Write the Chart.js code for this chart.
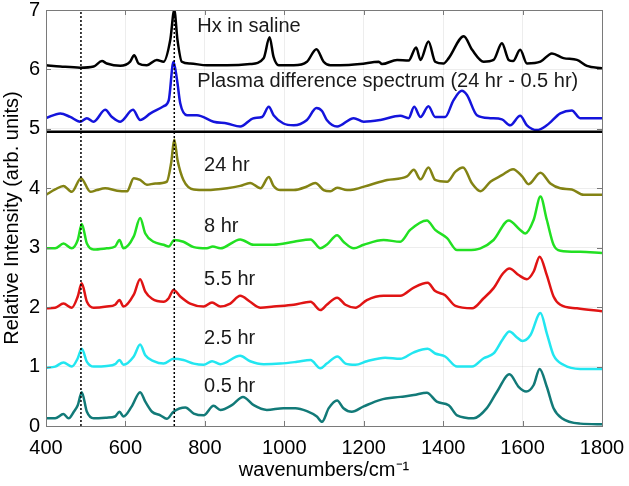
<!DOCTYPE html>
<html>
<head>
<meta charset="utf-8">
<script src="https://cdn.jsdelivr.net/npm/chart.js@4/dist/chart.umd.min.js"></script>
<style>
    html, body { margin: 0; padding: 0; background: #fff; }
</style>
</head>
<body>
<canvas id="spectraChart" width="629" height="486"></canvas>
<script>
// spectra: wavenumber (cm-1) and offset intensity
var hxWn  = [400, 436, 486, 520, 541, 553, 587, 612, 622, 633, 654, 679, 696, 713, 723, 731, 742, 763, 805, 856, 914, 948, 963, 973, 986, 1024, 1057, 1081, 1099, 1116, 1141, 1191, 1238, 1246, 1284, 1313, 1332, 1343, 1363, 1380, 1401, 1414, 1452, 1473, 1502, 1527, 1548, 1565, 1576, 1594, 1611, 1645, 1674, 1703, 1737, 1762, 1800];
var hxVal = [6.07, 6.05, 6.03, 6.05, 6.14, 6.10, 6.06, 6.13, 6.24, 6.10, 6.07, 6.16, 6.13, 6.50, 7.00, 6.50, 6.13, 6.10, 6.07, 6.07, 6.09, 6.19, 6.54, 6.21, 6.07, 6.07, 6.13, 6.34, 6.13, 6.07, 6.07, 6.09, 6.13, 6.09, 6.16, 6.15, 6.37, 6.16, 6.47, 6.13, 6.10, 6.19, 6.56, 6.33, 6.13, 6.16, 6.44, 6.16, 6.14, 6.33, 6.10, 6.13, 6.27, 6.19, 6.16, 6.06, 6.02];

var diffWn  = [400, 436, 461, 486, 503, 520, 549, 566, 587, 619, 637, 663, 696, 709, 721, 730, 738, 755, 780, 822, 856, 889, 923, 944, 961, 973, 998, 1024, 1057, 1081, 1095, 1107, 1133, 1175, 1200, 1242, 1292, 1313, 1327, 1343, 1363, 1380, 1405, 1426, 1447, 1460, 1485, 1519, 1548, 1569, 1594, 1611, 1636, 1661, 1695, 1724, 1745, 1800];
var diffVal = [5.18, 5.26, 5.20, 5.12, 5.18, 5.12, 5.32, 5.20, 5.12, 5.32, 5.15, 5.26, 5.38, 5.48, 6.13, 5.82, 5.43, 5.23, 5.23, 5.12, 5.09, 5.04, 5.18, 5.20, 5.37, 5.23, 5.09, 5.06, 5.15, 5.35, 5.30, 5.15, 5.04, 5.18, 5.12, 5.15, 5.22, 5.18, 5.37, 5.20, 5.38, 5.20, 5.20, 5.48, 5.64, 5.57, 5.23, 5.18, 5.16, 5.06, 5.22, 5.06, 4.98, 5.06, 5.26, 5.31, 5.18, 5.18];

var h24Wn  = [400, 423, 444, 465, 488, 512, 528, 549, 579, 604, 621, 637, 654, 675, 704, 715, 723, 731, 746, 772, 805, 856, 889, 914, 940, 961, 973, 990, 1024, 1057, 1078, 1099, 1116, 1133, 1158, 1175, 1217, 1259, 1309, 1326, 1343, 1363, 1380, 1410, 1431, 1450, 1473, 1494, 1519, 1548, 1576, 1599, 1615, 1645, 1670, 1695, 1724, 1754, 1800];
var h24Val = [3.89, 3.98, 4.04, 3.94, 4.17, 3.94, 3.97, 4.00, 3.96, 3.95, 4.17, 4.14, 4.06, 4.08, 4.11, 4.42, 4.82, 4.48, 4.14, 3.98, 3.97, 4.00, 4.04, 4.09, 4.00, 4.19, 4.04, 3.97, 3.97, 4.03, 4.09, 3.97, 3.95, 4.01, 3.97, 3.98, 4.06, 4.14, 4.20, 4.31, 4.15, 4.35, 4.14, 4.11, 4.28, 4.35, 4.08, 3.95, 4.11, 4.22, 4.32, 4.20, 4.07, 4.26, 4.08, 4.00, 3.98, 3.89, 3.89];

var h8Wn  = [400, 423, 444, 465, 480, 490, 503, 520, 553, 574, 585, 595, 621, 637, 650, 671, 696, 709, 723, 746, 772, 805, 820, 839, 889, 923, 973, 1024, 1066, 1091, 1107, 1133, 1149, 1175, 1200, 1250, 1292, 1317, 1359, 1380, 1410, 1435, 1460, 1494, 1527, 1565, 1594, 1607, 1628, 1645, 1661, 1678, 1695, 1745, 1800];
var h8Val = [2.99, 2.99, 3.07, 2.99, 3.13, 3.40, 3.07, 2.97, 2.99, 3.02, 3.13, 2.99, 3.19, 3.50, 3.24, 3.10, 3.05, 3.02, 3.13, 3.10, 3.01, 2.99, 3.02, 2.99, 3.14, 3.05, 3.05, 3.10, 3.14, 2.99, 3.05, 3.21, 3.10, 2.99, 3.05, 3.13, 3.10, 3.30, 3.46, 3.30, 3.16, 2.96, 2.96, 2.99, 3.13, 3.46, 3.30, 3.24, 3.47, 3.86, 3.47, 3.05, 2.95, 2.93, 2.91];

var h55Wn  = [400, 423, 444, 465, 480, 490, 503, 520, 553, 574, 585, 595, 621, 637, 650, 667, 696, 709, 721, 738, 763, 797, 818, 839, 864, 889, 914, 940, 973, 1024, 1066, 1091, 1107, 1133, 1154, 1179, 1208, 1250, 1292, 1326, 1361, 1380, 1405, 1431, 1473, 1502, 1527, 1551, 1567, 1590, 1611, 1628, 1643, 1661, 1678, 1695, 1737, 1800];
var h55Val = [1.98, 1.99, 2.06, 1.99, 2.18, 2.40, 2.09, 1.99, 2.01, 2.04, 2.12, 2.01, 2.21, 2.47, 2.26, 2.14, 2.09, 2.15, 2.29, 2.18, 2.06, 2.01, 2.08, 2.01, 2.06, 2.19, 2.09, 1.99, 2.01, 2.04, 2.09, 1.95, 2.04, 2.16, 2.04, 1.99, 2.12, 2.19, 2.19, 2.33, 2.41, 2.27, 2.20, 2.02, 1.98, 2.15, 2.32, 2.57, 2.65, 2.54, 2.47, 2.60, 2.85, 2.54, 2.18, 2.04, 1.98, 1.93];

var h25Wn  = [400, 423, 444, 465, 480, 490, 503, 520, 553, 574, 585, 595, 621, 637, 650, 671, 696, 721, 746, 772, 797, 818, 839, 889, 914, 948, 990, 1032, 1066, 1091, 1107, 1134, 1154, 1179, 1208, 1254, 1292, 1326, 1361, 1380, 1405, 1435, 1473, 1502, 1527, 1551, 1567, 1586, 1600, 1620, 1645, 1661, 1678, 1703, 1745, 1800];
var h25Val = [0.98, 1.00, 1.07, 1.00, 1.14, 1.30, 1.08, 1.00, 1.01, 1.04, 1.11, 1.03, 1.17, 1.37, 1.19, 1.09, 1.05, 1.13, 1.11, 1.05, 1.03, 1.09, 1.04, 1.18, 1.09, 1.04, 1.05, 1.08, 1.11, 0.97, 1.05, 1.17, 1.05, 1.03, 1.09, 1.15, 1.13, 1.24, 1.30, 1.22, 1.17, 1.00, 1.00, 1.14, 1.22, 1.47, 1.59, 1.49, 1.43, 1.53, 1.90, 1.56, 1.19, 1.03, 0.96, 0.96];

var h05Wn  = [400, 423, 444, 457, 470, 480, 490, 503, 520, 553, 574, 585, 595, 616, 637, 650, 667, 688, 704, 721, 751, 772, 797, 822, 839, 868, 896, 923, 956, 998, 1028, 1057, 1082, 1095, 1112, 1133, 1149, 1170, 1200, 1242, 1292, 1326, 1359, 1384, 1414, 1435, 1477, 1510, 1536, 1567, 1590, 1609, 1628, 1643, 1661, 1678, 1699, 1745, 1800];
var h05Val = [0.13, 0.13, 0.20, 0.13, 0.24, 0.35, 0.57, 0.24, 0.13, 0.14, 0.16, 0.24, 0.16, 0.33, 0.57, 0.41, 0.24, 0.18, 0.12, 0.24, 0.31, 0.21, 0.18, 0.34, 0.27, 0.35, 0.49, 0.35, 0.27, 0.30, 0.30, 0.25, 0.16, 0.07, 0.30, 0.43, 0.30, 0.24, 0.33, 0.44, 0.49, 0.52, 0.56, 0.41, 0.35, 0.18, 0.13, 0.30, 0.58, 0.87, 0.66, 0.58, 0.69, 0.96, 0.66, 0.30, 0.13, 0.04, 0.03];

var seriesNames = ['Hx in saline', 'Plasma difference spectrum (24 hr - 0.5 hr)', '24 hr', '8 hr', '5.5 hr', '2.5 hr', '0.5 hr'];
var seriesColors = ['#000000', '#1414dc', '#838314', '#22e022', '#e01414', '#22e6f0', '#127a78'];

// label anchors (wavenumber, intensity) for the in-plot text
var labelWn = [781, 781, 798, 798, 798, 798, 798];
var labelLevel = [6.73, 5.79, 4.39, 3.35, 2.47, 1.48, 0.66];

// dotted reference bands and the separator between reference and plasma spectra
var bandWn = [488, 723];
var separatorLevel = 4.95;

var xTicks = [400, 600, 800, 1000, 1200, 1400, 1600, 1800];
var yTicks = [0, 1, 2, 3, 4, 5, 6, 7];

function toPoints(wn, val) {
    return wn.map(function (x, i) { return { x: x, y: val[i] }; });
}

var spectra = [
    [hxWn, hxVal], [diffWn, diffVal], [h24Wn, h24Val], [h8Wn, h8Val],
    [h55Wn, h55Val], [h25Wn, h25Val], [h05Wn, h05Val]
];

var datasets = [];

bandWn.forEach(function (wn) {
    datasets.push({
        data: [{ x: wn, y: yTicks[0] }, { x: wn, y: yTicks[yTicks.length - 1] }],
        borderColor: '#000',
        borderWidth: 1.5,
        borderDash: [2, 2],
        pointRadius: 0,
        order: 0
    });
});

datasets.push({
    data: [{ x: xTicks[0], y: separatorLevel }, { x: xTicks[xTicks.length - 1], y: separatorLevel }],
    borderColor: '#000',
    borderWidth: 2.5,
    pointRadius: 0,
    order: 0
});

spectra.forEach(function (s, i) {
    datasets.push({
        label: seriesNames[i],
        data: toPoints(s[0], s[1]),
        borderColor: seriesColors[i],
        borderWidth: 2.5,
        pointRadius: 0,
        cubicInterpolationMode: 'monotone',
        order: 1
    });
});

var fontFamily = '"Liberation Sans", Arial, Helvetica, sans-serif';

// frame with inward tick marks on all four sides, plus series labels
var framePlugin = {
    id: 'framePlugin',
    afterDatasetsDraw: function (chart) {
        var ctx = chart.ctx;
        var a = chart.chartArea;
        var xs = chart.scales.x, ys = chart.scales.y;
        ctx.save();
        ctx.strokeStyle = '#7a7a7a';
        ctx.lineWidth = 1;
        ctx.strokeRect(a.left + 0.5, a.top + 0.5, a.right - a.left, a.bottom - a.top);
        ctx.beginPath();
        xTicks.forEach(function (t) {
            var px = Math.round(xs.getPixelForValue(t)) + 0.5;
            ctx.moveTo(px, a.bottom); ctx.lineTo(px, a.bottom - 5);
            ctx.moveTo(px, a.top); ctx.lineTo(px, a.top + 5);
        });
        yTicks.forEach(function (t) {
            var py = Math.round(ys.getPixelForValue(t)) + 0.5;
            ctx.moveTo(a.left, py); ctx.lineTo(a.left + 5, py);
            ctx.moveTo(a.right, py); ctx.lineTo(a.right - 5, py);
        });
        ctx.stroke();

        ctx.fillStyle = '#1a1a1a';
        ctx.font = '20px ' + fontFamily;
        ctx.textAlign = 'left';
        ctx.textBaseline = 'middle';
        seriesNames.forEach(function (name, i) {
            ctx.fillText(name, xs.getPixelForValue(labelWn[i]), ys.getPixelForValue(labelLevel[i]));
        });
        ctx.restore();
    }
};

new Chart(document.getElementById('spectraChart').getContext('2d'), {
    type: 'line',
    data: { datasets: datasets },
    options: {
        responsive: false,
        animation: false,
        layout: { padding: { left: 0, right: 27, top: 10, bottom: 0 } },
        plugins: {
            legend: { display: false },
            tooltip: { enabled: false }
        },
        scales: {
            x: {
                type: 'linear',
                min: 400,
                max: 1800,
                afterBuildTicks: function (scale) {
                    scale.ticks = xTicks.map(function (v) { return { value: v }; });
                },
                afterFit: function (scale) {
                    scale.height = 60;
                    scale.paddingLeft = 0;
                    scale.paddingRight = 0;
                },
                ticks: {
                    color: '#000',
                    font: { size: 20, family: fontFamily },
                    maxRotation: 0,
                    padding: 10,
                    callback: function (value) { return String(value); }
                },
                grid: { color: 'rgba(0,0,0,0.07)', drawTicks: false },
                border: { display: false },
                title: {
                    display: true,
                    text: 'wavenumbers/cm\u207B\u00B9',
                    color: '#000',
                    font: { size: 20, family: fontFamily },
                    padding: { top: 0, bottom: 4 }
                }
            },
            y: {
                type: 'linear',
                min: 0,
                max: 7,
                afterBuildTicks: function (scale) {
                    scale.ticks = yTicks.map(function (v) { return { value: v }; });
                },
                afterFit: function (scale) {
                    scale.width = 46;
                    scale.paddingTop = 0;
                    scale.paddingBottom = 0;
                },
                ticks: {
                    color: '#000',
                    font: { size: 20, family: fontFamily },
                    padding: 6,
                    callback: function (value) { return String(value); }
                },
                grid: { color: 'rgba(0,0,0,0.07)', drawTicks: false },
                border: { display: false },
                title: {
                    display: true,
                    text: 'Relative Intensity (arb. units)',
                    color: '#000',
                    font: { size: 20, family: fontFamily },
                    padding: { top: 0, bottom: 0 }
                }
            }
        }
    },
    plugins: [framePlugin]
});
</script>
</body>
</html>
